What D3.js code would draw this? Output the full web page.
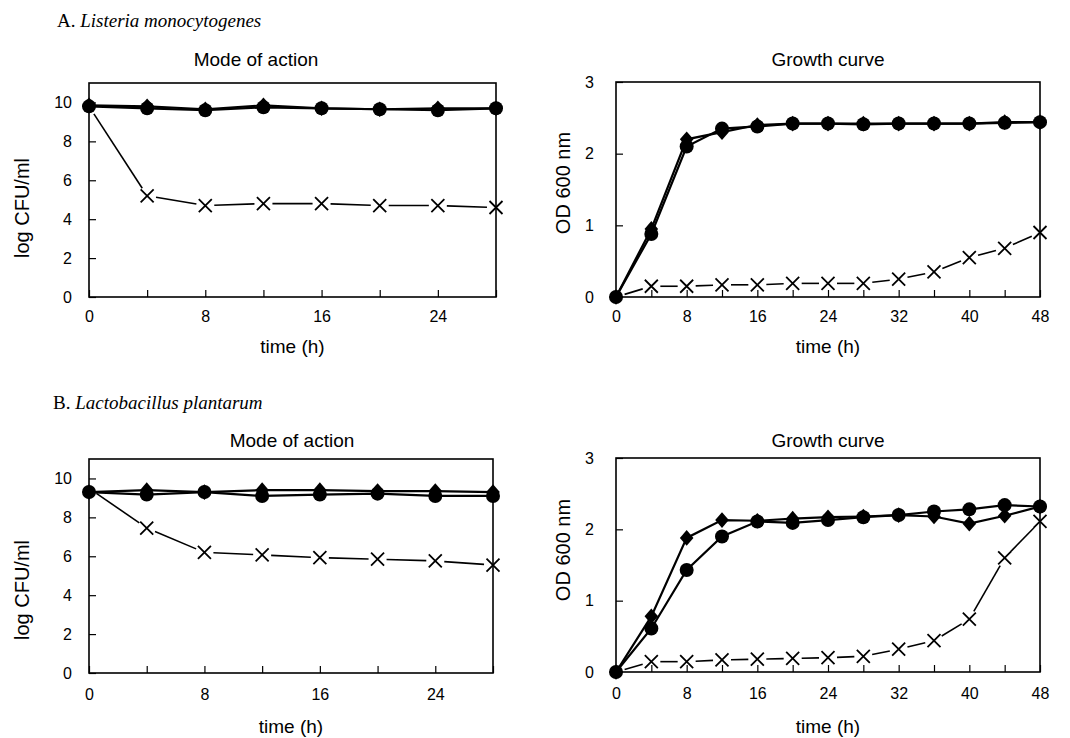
<!DOCTYPE html>
<html>
<head>
<meta charset="utf-8">
<script src="https://cdn.jsdelivr.net/npm/d3@7"></script>
<style>
  body { margin: 0; background: #fff; }
  svg { display: block; }
  text { fill: #000; }
</style>
</head>
<body>
<svg id="chart" width="1070" height="738"></svg>
<script>
'use strict';

// time points (h)
const modeHours = [0, 4, 8, 12, 16, 20, 24, 28];
const growthHours = [0, 4, 8, 12, 16, 20, 24, 28, 32, 36, 40, 44, 48];

// tick labels
const modeXTicks = [0, 4, 8, 12, 16, 20, 24, 28];
const modeXLabels = [0, 8, 16, 24];
const growthXTicks = [0, 4, 8, 12, 16, 20, 24, 28, 32, 36, 40, 44, 48];
const growthXLabels = [0, 8, 16, 24, 32, 40, 48];
const modeYTicks = [0, 2, 4, 6, 8, 10];
const growthYTicks = [0, 1, 2, 3];

// A. Listeria monocytogenes - mode of action (log CFU/ml)
const listeriaModeCircle = [9.8, 9.7, 9.6, 9.75, 9.7, 9.65, 9.6, 9.7];
const listeriaModeDiamond = [9.85, 9.8, 9.65, 9.85, 9.7, 9.65, 9.7, 9.7];
const listeriaModeCross = [9.8, 5.2, 4.7, 4.8, 4.8, 4.7, 4.7, 4.6];

// A. Listeria monocytogenes - growth curve (OD 600 nm)
const listeriaGrowthCircle = [0, 0.88, 2.1, 2.35, 2.38, 2.42, 2.42, 2.41, 2.42, 2.42, 2.42, 2.43, 2.44];
const listeriaGrowthDiamond = [0, 0.95, 2.2, 2.3, 2.4, 2.42, 2.42, 2.42, 2.42, 2.42, 2.42, 2.44, 2.44];
const listeriaGrowthCross = [0, 0.15, 0.15, 0.17, 0.17, 0.19, 0.19, 0.19, 0.25, 0.35, 0.55, 0.68, 0.9];

// B. Lactobacillus plantarum - mode of action (log CFU/ml)
const lactoModeCircle = [9.3, 9.17, 9.3, 9.1, 9.17, 9.22, 9.1, 9.1];
const lactoModeDiamond = [9.3, 9.4, 9.3, 9.4, 9.4, 9.35, 9.35, 9.3];
const lactoModeCross = [9.5, 7.45, 6.2, 6.07, 5.93, 5.85, 5.76, 5.55];

// B. Lactobacillus plantarum - growth curve (OD 600 nm)
const lactoGrowthCircle = [0, 0.61, 1.43, 1.9, 2.11, 2.09, 2.13, 2.17, 2.2, 2.25, 2.28, 2.34, 2.32];
const lactoGrowthDiamond = [0, 0.78, 1.88, 2.13, 2.12, 2.15, 2.17, 2.18, 2.2, 2.18, 2.08, 2.19, 2.32];
const lactoGrowthCross = [0, 0.145, 0.145, 0.17, 0.18, 0.19, 0.2, 0.22, 0.32, 0.44, 0.74, 1.6, 2.11];

const svg = d3.select('#chart');
const sans = '"Liberation Sans", Arial, sans-serif';
const serif = '"Liberation Serif", "Times New Roman", serif';

// custom marker shapes, size = half width
const diamondType = {
    draw(ctx, s) {
        ctx.moveTo(0, -s * 1.15);
        ctx.lineTo(s, 0);
        ctx.lineTo(0, s * 1.15);
        ctx.lineTo(-s, 0);
        ctx.closePath();
    }
};
const crossType = {
    draw(ctx, s) {
        ctx.moveTo(-s, -s); ctx.lineTo(s, s);
        ctx.moveTo(-s, s); ctx.lineTo(s, -s);
    }
};

function zip(xs, ys) {
    return xs.map((h, i) => ({ h: h, v: ys[i] }));
}

function header(label, species, x, y) {
    const t = svg.append('text')
        .attr('x', x).attr('y', y)
        .style('font-family', serif)
        .style('font-size', '19px');
    t.append('tspan').text(label + ' ');
    t.append('tspan').style('font-style', 'italic').text(species);
}

function panel(p) {
    const x = d3.scaleLinear().domain(p.xDomain).range([p.left, p.right]);
    const y = d3.scaleLinear().domain(p.yDomain).range([p.bottom, p.top]);
    const g = svg.append('g');

    const yAxis = g.append('g')
        .attr('transform', `translate(${p.left},0)`)
        .call(d3.axisLeft(y).tickValues(p.yTicks).tickSizeInner(-7).tickSizeOuter(0).tickPadding(p.yPad)
            .tickFormat(d3.format('d')));
    const xAxis = g.append('g')
        .attr('transform', `translate(0,${p.bottom})`)
        .call(d3.axisBottom(x).tickValues(p.xTicks).tickSizeInner(-7).tickSizeOuter(0).tickPadding(p.xPad)
            .tickFormat(d => p.xLabels.includes(d) ? d : ''));
    [yAxis, xAxis].forEach(a => {
        a.select('.domain').remove();
        a.selectAll('line').attr('stroke', '#000').attr('stroke-width', 1.2);
        a.selectAll('text').style('font-family', sans).style('font-size', '16px').attr('fill', '#000');
    });

    g.append('rect')
        .attr('x', p.left).attr('y', p.top)
        .attr('width', p.right - p.left).attr('height', p.bottom - p.top)
        .attr('fill', 'none').attr('stroke', '#000').attr('stroke-width', 1.6);

    // titles
    g.append('text')
        .attr('x', p.titleX).attr('y', p.titleY)
        .attr('text-anchor', 'middle')
        .style('font-family', sans).style('font-size', '19px')
        .text(p.title);
    g.append('text')
        .attr('x', (p.left + p.right) / 2).attr('y', p.xLabelY)
        .attr('text-anchor', 'middle')
        .style('font-family', sans).style('font-size', '19px')
        .text('time (h)');
    g.append('text')
        .attr('transform', `translate(${p.yLabelX},${p.yLabelY}) rotate(-90)`)
        .attr('text-anchor', 'middle')
        .style('font-family', sans).style('font-size', '20px')
        .text(p.yLabel);

    // cross series: line segments broken around the markers
    const cross = zip(p.hours, p.cross);
    const gap = 9;
    const segs = d3.pairs(cross).map(([a, b]) => {
        const x1 = x(a.h), y1 = y(a.v), x2 = x(b.h), y2 = y(b.v);
        const len = Math.hypot(x2 - x1, y2 - y1);
        const ux = (x2 - x1) / len, uy = (y2 - y1) / len;
        return [x1 + ux * gap, y1 + uy * gap, x2 - ux * gap, y2 - uy * gap];
    });
    g.append('g').selectAll('line').data(segs).join('line')
        .attr('x1', d => d[0]).attr('y1', d => d[1])
        .attr('x2', d => d[2]).attr('y2', d => d[3])
        .attr('stroke', '#000').attr('stroke-width', 1.6);
    g.append('g').selectAll('path').data(cross.slice(1)).join('path')
        .attr('transform', d => `translate(${x(d.h)},${y(d.v)})`)
        .attr('d', d3.symbol(crossType, 6.5)())
        .attr('fill', 'none').attr('stroke', '#000').attr('stroke-width', 1.8);

    const line = d3.line().x(d => x(d.h)).y(d => y(d.v));
    const circles = zip(p.hours, p.circle);
    const diamonds = zip(p.hours, p.diamond);

    [circles, diamonds].forEach(s => {
        g.append('path').datum(s)
            .attr('d', line)
            .attr('fill', 'none').attr('stroke', '#000').attr('stroke-width', 2.2);
    });
    g.append('g').selectAll('path').data(diamonds).join('path')
        .attr('transform', d => `translate(${x(d.h)},${y(d.v)})`)
        .attr('d', d3.symbol(diamondType, 6.8)())
        .attr('fill', '#000');
    g.append('g').selectAll('circle').data(circles).join('circle')
        .attr('cx', d => x(d.h)).attr('cy', d => y(d.v))
        .attr('r', 7).attr('fill', '#000');
}

header('A.', 'Listeria monocytogenes', 57, 27);
header('B.', 'Lactobacillus plantarum', 53, 409);

panel({
    left: 89, right: 496, top: 83, bottom: 297,
    xDomain: [0, 28], yDomain: [0, 11],
    xTicks: modeXTicks, xLabels: modeXLabels, yTicks: modeYTicks,
    yPad: 17, xPad: 14,
    title: 'Mode of action', titleX: 256, titleY: 66,
    xLabelY: 353, yLabel: 'log CFU/ml', yLabelX: 29, yLabelY: 208,
    hours: modeHours, circle: listeriaModeCircle, diamond: listeriaModeDiamond, cross: listeriaModeCross
});
panel({
    left: 616, right: 1040, top: 82, bottom: 297,
    xDomain: [0, 48], yDomain: [0, 3],
    xTicks: growthXTicks, xLabels: growthXLabels, yTicks: growthYTicks,
    yPad: 22, xPad: 14,
    title: 'Growth curve', titleX: 828, titleY: 66,
    xLabelY: 353, yLabel: 'OD 600 nm', yLabelX: 570, yLabelY: 183,
    hours: growthHours, circle: listeriaGrowthCircle, diamond: listeriaGrowthDiamond, cross: listeriaGrowthCross
});
panel({
    left: 89, right: 493, top: 459, bottom: 673,
    xDomain: [0, 28], yDomain: [0, 11],
    xTicks: modeXTicks, xLabels: modeXLabels, yTicks: modeYTicks,
    yPad: 17, xPad: 16,
    title: 'Mode of action', titleX: 292, titleY: 447,
    xLabelY: 733, yLabel: 'log CFU/ml', yLabelX: 29, yLabelY: 590,
    hours: modeHours, circle: lactoModeCircle, diamond: lactoModeDiamond, cross: lactoModeCross
});
panel({
    left: 616, right: 1040, top: 458, bottom: 672,
    xDomain: [0, 48], yDomain: [0, 3],
    xTicks: growthXTicks, xLabels: growthXLabels, yTicks: growthYTicks,
    yPad: 22, xPad: 16,
    title: 'Growth curve', titleX: 828, titleY: 447,
    xLabelY: 733, yLabel: 'OD 600 nm', yLabelX: 570, yLabelY: 550,
    hours: growthHours, circle: lactoGrowthCircle, diamond: lactoGrowthDiamond, cross: lactoGrowthCross
});
</script>
</body>
</html>
